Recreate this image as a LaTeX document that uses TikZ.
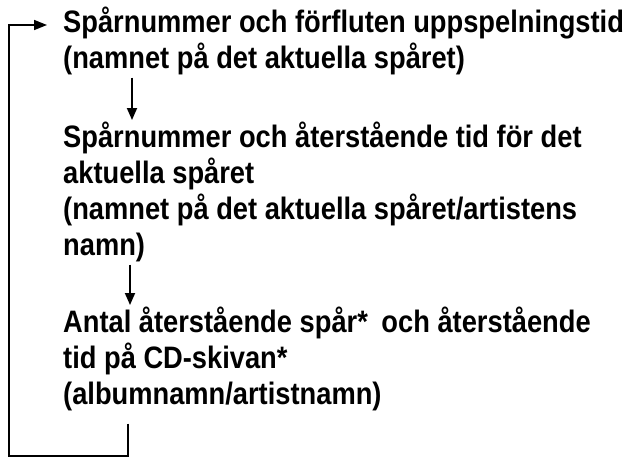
\documentclass[tikz,border=0pt]{standalone}
\usepackage{fontspec}
\newfontfamily\bodyfont[FakeStretch=0.88]{Liberation Sans}
\usetikzlibrary{arrows.meta}
\begin{document}
\begin{tikzpicture}[x=1pt,y=-1pt,
  txt/.style={anchor=base west, inner sep=0pt, text width=620pt, align=flush left,
    font=\bodyfont\bfseries\fontsize{31}{36}\selectfont,
    execute at begin node={\spaceskip=0pt\xspaceskip=0pt\relax}},
  conn/.style={line width=1.8pt, -{Triangle[length=12pt,width=10pt]}},
  loop/.style={line width=1.6pt, -{Triangle[length=13pt,width=10pt]}}]
\useasboundingbox (0,0) rectangle (623,459);
\node[txt] (b1) at (63,32) {Spårnummer och förfluten uppspelningstid\\(namnet på det aktuella spåret)};
\node[txt] (b2) at (63,147) {Spårnummer och återstående tid för det\\aktuella spåret\\(namnet på det aktuella spåret/artistens\\namn)};
\node[txt] (b3) at (63,332) {Antal återstående spår*\kern6pt{} och återstående\\tid på CD-skivan*\\(albumnamn/artistnamn)};
\coordinate (lb) at (9,456);
\coordinate (lt) at (9,25);
\draw[conn] ([shift={(69,3)}]b1.south west) -- ([shift={(69,-27)}]b2.base west);
\draw[conn] ([shift={(67,3)}]b2.south west) -- ([shift={(67,-27)}]b3.base west);
\draw[loop] ([shift={(65,13)}]b3.south west) |- (lb) -- (lt) -- ([xshift=-16pt]b1.base west |- lt);
\end{tikzpicture}
\end{document}
